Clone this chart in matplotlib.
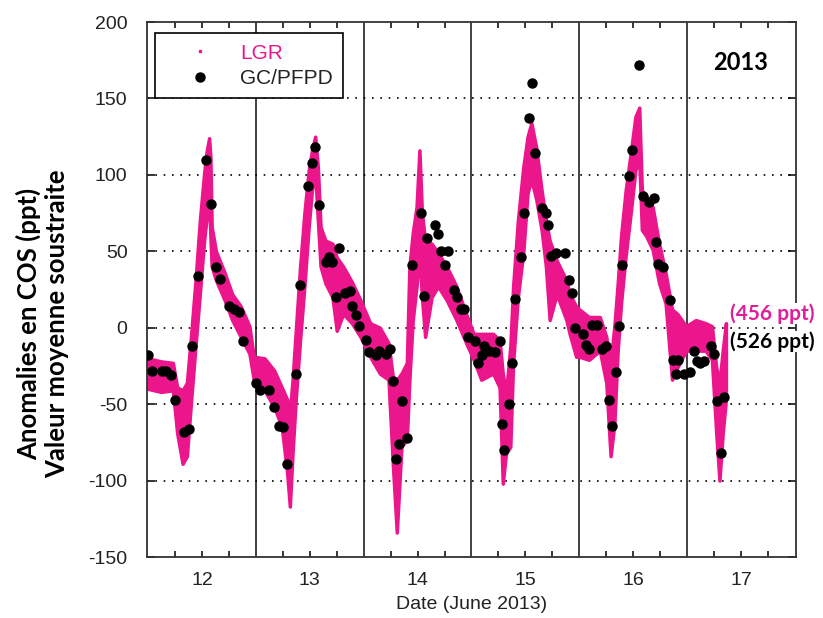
import matplotlib
matplotlib.use("Agg")
import matplotlib.pyplot as plt
from matplotlib.lines import Line2D
from matplotlib.ticker import FixedLocator

plt.rcParams['axes.unicode_minus'] = False

# GC/PFPD flask measurements (day of June 2013, anomaly in ppt)
gc_t = [11.50, 11.54, 11.63, 11.67, 11.71, 11.75, 11.83, 11.88, 11.91, 11.96,
        12.04, 12.08, 12.13, 12.17, 12.25, 12.30, 12.34, 12.38, 12.50, 12.54,
        12.62, 12.67, 12.71, 12.75, 12.79, 12.87, 12.91, 12.98, 13.02, 13.05,
        13.09, 13.15, 13.18, 13.21, 13.24, 13.27, 13.33, 13.37, 13.39, 13.43,
        13.46, 13.52, 13.55, 13.61, 13.64, 13.71, 13.74, 13.77, 13.80, 13.83,
        13.86, 13.90, 13.95, 14.03, 14.06, 14.09, 14.16, 14.19, 14.22, 14.25,
        14.28, 14.34, 14.37, 14.40, 14.43, 14.47, 14.53, 14.56, 14.60, 14.62,
        14.66, 14.72, 14.76, 14.78, 14.80, 14.85, 14.88, 14.90, 14.96, 14.99,
        15.03, 15.06, 15.09, 15.15, 15.19, 15.21, 15.24, 15.28, 15.37, 15.40,
        15.43, 15.46, 15.53, 15.56, 15.59, 15.62, 15.66, 15.71, 15.75, 15.78,
        15.80, 15.84, 15.87, 15.90, 15.96, 15.99, 16.05, 16.09, 16.15, 16.19,
        16.21, 16.23, 16.28, 16.34, 16.37, 16.40, 16.42, 16.47, 16.53, 16.56,
        16.59, 16.62, 16.66, 16.72, 16.75, 16.78, 16.81, 16.84]
gc_v = [-18, -28, -28, -28, -31, -47, -68, -66, -12, 34,
        110, 81, 40, 32, 14, 12, 10, -9, -36, -41,
        -41, -52, -64, -65, -89, -30, 28, 93, 108, 118,
        80, 43, 46, 43, 20, 52, 23, 24, 14, 8,
        1, -8, -16, -18, -15, -17, -14, -35, -86, -76,
        -48, -72, 41, 75, 21, 59, 67, 61, 50, 41,
        50, 25, 20, 12, 12, -6, -9, -23, -18, -12,
        -15, -16, -9, -63, -80, -50, -23, 19, 46, 75,
        137, 160, 114, 78, 75, 67, 47, 49, 49, 31,
        23, 0, -4, -11, -14, 2, 2, -14, -12, -47,
        -64, -29, 1, 41, 99, 116, 172, 86, 82, 85,
        56, 42, 40, 18, -21, -30, -21, -30, -29, -15,
        -22, -23, -22, -12, -17, -48, -82, -45]

# LGR continuous record, read as lower / upper envelope of the noisy trace
lgr_t = [11.50, 11.62, 11.73, 11.77, 11.82, 11.86, 11.90, 11.94, 11.98, 12.02,
         12.04, 12.066, 12.078, 12.09, 12.13, 12.21, 12.28, 12.36, 12.44, 12.48,
         12.58, 12.67, 12.74, 12.79, 12.815, 12.84, 12.87, 12.91, 12.95, 12.99,
         13.02, 13.05, 13.075, 13.10, 13.145, 13.21, 13.25, 13.31, 13.39, 13.47,
         13.56, 13.65, 13.73, 13.77, 13.807, 13.85, 13.90, 13.924, 13.955, 13.99,
         14.017, 14.04, 14.07, 14.13, 14.19, 14.27, 14.36, 14.45, 14.52, 14.59,
         14.70, 14.76, 14.79, 14.82, 14.86, 14.886, 14.93, 14.98, 15.02, 15.055,
         15.10, 15.15, 15.19, 15.225, 15.29, 15.38, 15.41, 15.47, 15.50, 15.59,
         15.69, 15.75, 15.79, 15.825, 15.856, 15.887, 15.93, 15.98, 16.02, 16.056,
         16.08, 16.12, 16.18, 16.24, 16.30, 16.36, 16.41, 16.49, 16.58, 16.67,
         16.73, 16.77, 16.80, 16.83, 16.86]
lgr_lo = [-40, -42, -41, -69, -89, -84, -47, -12, 22, 57,
          70, 84, 60, 40, 31, 18, 5, -6, -17, -34,
          -41, -52, -65, -95, -117, -82, -47, -8, 27, 66,
          90, 101, 70, 40, 29, 20, -2, 9, 3, -6,
          -19, -30, -34, -89, -134, -78, -73, -34, 5, 27,
          49, 20, -6, 20, 27, 18, 5, -10, -21, -34,
          -30, -39, -102, -82, -78, -23, 20, 49, 88, 97,
          84, 64, 40, 5, 22, 5, -4, -19, -19, -21,
          -15, -36, -84, -63, -15, 16, 47, 77, 103, 110,
          64, 60, 51, 29, 16, -34, -26, -15, -15, -15,
          -21, -69, -100, -69, -47]
lgr_hi = [-20, -22, -23, -39, -41, -36, -4, 31, 70, 101,
          114, 124, 112, 66, 50, 36, 22, 14, 1, -19,
          -20, -28, -39, -47, -56, -34, -2, 40, 75, 103,
          116, 125, 105, 66, 57, 55, 46, 40, 30, 18,
          3, 0, -10, -32, -34, -30, -23, 40, 62, 79,
          116, 75, 57, 55, 49, 40, 27, 9, -4, -4,
          -4, -8, -30, -43, -12, 27, 70, 105, 125, 134,
          118, 90, 70, 57, 44, 31, 22, 14, 12, 7,
          7, -6, -23, 1, 29, 60, 90, 116, 138, 144,
          90, 86, 79, 55, 36, 12, 9, 1, 5, 3,
          1, -26, -36, -15, 3]

day_ticks = [12, 13, 14, 15, 16, 17]
day_separators = [12.5, 13.5, 14.5, 15.5, 16.5]
grid_levels = [-100, -50, 0, 50, 100, 150]

pink = '#ec168c'
tick_font = 'Liberation Sans'
label_font = 'Lato'

fig = plt.figure(figsize=(8.23, 6.18), dpi=100)
ax = fig.add_axes([0.1786, 0.0987, 0.7886, 0.8657])

ax.fill_between(lgr_t, lgr_lo, lgr_hi, color=pink, lw=2.5, edgecolor=pink, zorder=2)
ax.plot(gc_t, gc_v, 'o', color='black', ms=6.5, zorder=3)

for x in day_separators:
    ax.axvline(x, color='#333333', lw=1.3, zorder=1)
for y in grid_levels:
    ax.axhline(y, color='black', lw=1.2, ls=(0, (1, 4)), zorder=1)

ax.set_xlim(11.49, 17.51)
ax.set_ylim(-150, 200)
ax.set_xticks(day_ticks)
ax.xaxis.set_minor_locator(FixedLocator([11.75, 12.25, 12.75, 13.25, 13.75, 14.25,
                                          14.75, 15.25, 15.75, 16.25, 16.75, 17.25]))
ax.set_yticks(range(-150, 201, 50))
ax.tick_params(which='both', direction='in', top=True, right=True,
               labelsize=14, labelcolor='#222222', width=1.1)
ax.tick_params(which='major', axis='y', length=6, pad=14)
ax.tick_params(which='major', axis='x', length=4, pad=11)
ax.tick_params(which='minor', length=4)
for lab in ax.get_xticklabels() + ax.get_yticklabels():
    lab.set_family(tick_font)
for s in ax.spines.values():
    s.set_linewidth(1.3)
    s.set_color('#333333')

ax.set_xlabel('Date (June 2013)', family=tick_font, fontsize=14, color='#222222', labelpad=5)

fig.text(0.034, 0.476, 'Anomalies en COS (ppt)', rotation=90, ha='center', va='center',
         family=label_font, fontweight='bold', fontsize=18.5)
fig.text(0.069, 0.476, 'Valeur moyenne soustraite', rotation=90, ha='center', va='center',
         family=label_font, fontweight='bold', fontsize=18.5)

handles = [Line2D([], [], ls='none', marker='s', ms=2, color=pink),
           Line2D([], [], ls='none', marker='o', ms=6.5, color='black')]
leg = ax.legend(handles, ['LGR', 'GC/PFPD'], loc='upper left', bbox_to_anchor=(0.012, 0.979),
                borderaxespad=0, fancybox=False, framealpha=1, edgecolor='black',
                prop={'family': tick_font, 'size': 15}, handlelength=3.3,
                handletextpad=0.3, borderpad=0.5, labelspacing=0.3,
                labelcolor=[pink, '#222222'])
leg.get_frame().set_linewidth(1.2)
leg.set_zorder(5)

ax.text(0.915, 0.925, '2013', transform=ax.transAxes, ha='center', va='center',
        family=label_font, fontweight='bold', fontsize=17)
fig.text(0.938, 0.493, '(456 ppt)', ha='center', va='center', color='#e01e9a',
         family=label_font, fontweight='bold', fontsize=15,
         bbox=dict(facecolor='white', edgecolor='none', pad=0))
fig.text(0.938, 0.447, '(526 ppt)', ha='center', va='center', color='black',
         family=label_font, fontweight='bold', fontsize=15,
         bbox=dict(facecolor='white', edgecolor='none', pad=0))

fig.savefig('out.png', dpi=100)
